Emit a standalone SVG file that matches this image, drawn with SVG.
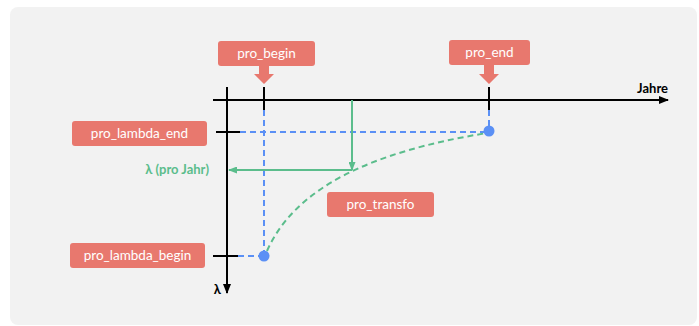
<svg xmlns="http://www.w3.org/2000/svg" width="699" height="326" viewBox="0 0 699 326">
<style>
.box{fill:#e8786e;}
.bt{font-family:Lato,"Open Sans",sans-serif;font-size:13.5px;fill:#ffffff;text-anchor:middle;}
.ax{stroke:#000;stroke-width:2;fill:none;}
.bl{stroke:#5b90f5;stroke-width:2;stroke-dasharray:6 4;fill:none;}
.gr{stroke:#5bbd8c;stroke-width:2;fill:none;}
.lb{font-family:Lato,"Open Sans",sans-serif;font-size:13px;font-weight:bold;}
</style>
<defs>
<marker id="ka" markerWidth="10" markerHeight="8" refX="9" refY="4" orient="auto" markerUnits="userSpaceOnUse"><path d="M0,0 L10,4 L0,8 z" fill="#000"/></marker>
<marker id="ga" markerWidth="9" markerHeight="7" refX="8" refY="3.5" orient="auto" markerUnits="userSpaceOnUse"><path d="M0,0 L9,3.5 L0,7 z" fill="#5bbd8c"/></marker>
</defs>
<rect x="0" y="0" width="699" height="326" fill="#ffffff"/>
<rect x="10" y="7" width="687" height="318" rx="8" fill="#f2f2f2"/>
<g id="connectors">
<line class="ax" x1="213" y1="100" x2="668" y2="100" marker-end="url(#ka)"/>
<line class="ax" x1="227" y1="87" x2="227" y2="293" marker-end="url(#ka)"/>
<line class="ax" x1="264" y1="87" x2="264" y2="110"/>
<line class="ax" x1="489" y1="87" x2="489" y2="110"/>
<line class="ax" x1="216" y1="132" x2="240" y2="132"/>
<line class="ax" x1="213" y1="256" x2="238" y2="256"/>
<line class="bl" x1="264" y1="110" x2="264" y2="252"/>
<line class="bl" x1="489" y1="110" x2="489" y2="128"/>
<line class="bl" x1="240" y1="132" x2="486" y2="132"/>
<line class="bl" x1="238" y1="256" x2="260" y2="256"/>
<path class="bl" style="stroke:#5bbd8c" d="M267,251 C295,188 370,152 487,133"/>
<line class="gr" x1="352" y1="100" x2="352" y2="170" marker-end="url(#ga)"/>
<line class="gr" x1="352" y1="170" x2="229" y2="170" marker-end="url(#ga)"/>
<circle cx="489" cy="131" r="5.5" fill="#5b90f5"/>
<circle cx="264" cy="256" r="5.5" fill="#5b90f5"/>
<path d="M259,66 L269,66 L269,74 L274,74 L264,84 L254,74 L259,74 z" fill="#e8786e"/>
<path d="M484,65 L494,65 L494,74 L499,74 L489,84 L479,74 L484,74 z" fill="#e8786e"/>
</g>
<g id="pro_begin"><rect class="box" x="218" y="41" width="97" height="25" rx="3"/><text class="bt" x="266.5" y="58">pro_begin</text></g>
<g id="pro_end"><rect class="box" x="449" y="40" width="81" height="25" rx="3"/><text class="bt" x="489.5" y="57">pro_end</text></g>
<g id="pro_lambda_end"><rect class="box" x="72" y="121" width="135" height="25" rx="3"/><text class="bt" x="139.5" y="138">pro_lambda_end</text></g>
<g id="pro_lambda_begin"><rect class="box" x="70" y="243" width="135" height="25" rx="3"/><text class="bt" x="137.5" y="260">pro_lambda_begin</text></g>
<g id="pro_transfo"><rect class="box" x="327" y="192" width="107" height="25" rx="3"/><text class="bt" x="380.5" y="209">pro_transfo</text></g>
<text class="lb" x="668" y="93" text-anchor="end" fill="#000">Jahre</text>
<text class="lb" x="221" y="294" text-anchor="end" fill="#000">λ</text>
<text class="lb" x="209" y="174" text-anchor="end" fill="#5bbd8c">λ (pro Jahr)</text>
</svg>
